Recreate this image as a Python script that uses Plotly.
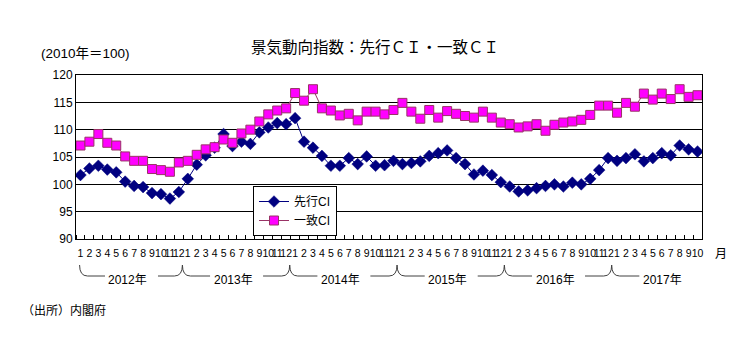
import plotly.graph_objects as go

# Monthly series, Jan 2012 - Oct 2017 (2010 = 100)
years = ["2012年", "2013年", "2014年", "2015年", "2016年", "2017年"]
months = [str(m) for m in range(1, 13)] * 5 + [str(m) for m in range(1, 11)]

leading_ci = [
    101.7, 102.9, 103.4, 102.7, 102.2, 100.5, 99.7, 99.5, 98.4, 98.2, 97.4, 98.6,
    101.0, 103.6, 105.3, 106.7, 109.2, 107.0, 107.8, 107.4, 109.5, 110.4, 111.2, 111.0,
    112.1, 107.8, 106.7, 105.2, 103.4, 103.4, 104.8, 103.7, 105.1, 103.4, 103.5, 104.3,
    103.7, 103.9, 104.2, 105.2, 105.7, 106.2, 104.8, 103.7, 101.8, 102.5, 101.7, 100.4,
    99.6, 98.7, 98.9, 99.3, 99.7, 100.0, 99.6, 100.3, 100.0, 101.0, 102.6, 104.8,
    104.3, 104.8, 105.5, 104.2, 104.8, 105.7, 105.3, 107.1, 106.4, 106.0,
]
coincident_ci = [
    107.1, 107.8, 109.2, 107.6, 107.1, 105.1, 104.3, 104.3, 102.8, 102.6, 102.3, 104.0,
    104.3, 105.4, 106.4, 106.8, 108.2, 107.6, 109.3, 110.0, 111.5, 112.8, 113.5, 113.9,
    116.7, 115.3, 117.4, 113.9, 113.5, 112.6, 112.9, 111.7, 113.3, 113.3, 112.8, 113.6,
    114.9, 113.3, 112.0, 113.6, 112.2, 113.4, 112.9, 112.5, 112.2, 113.3, 112.2, 111.3,
    111.0, 110.4, 110.6, 111.0, 109.8, 110.9, 111.3, 111.5, 111.8, 112.7, 114.4, 114.4,
    113.1, 114.9, 114.2, 116.6, 115.5, 116.6, 115.6, 117.4, 116.0, 116.3,
]
y_ticks = [90, 95, 100, 105, 110, 115, 120]

W, H = 747, 342
L, R, T, B = 76, 702, 75, 239          # plot area in pixels
N = len(months)
unit = (R - L) / N

JP = "Liberation Sans, Noto Sans CJK JP"


def xp_data(d):
    """data x -> paper x"""
    return (d + 0.5) / N


def xp_px(px):
    return (px - L) / (R - L)


def yp_px(py):
    return (B - py) / (B - T)


x = list(range(N))

fig = go.Figure()
fig.add_trace(go.Scatter(
    x=x, y=leading_ci, name="先行CI", mode="lines+markers",
    line=dict(color="#000080", width=1),
    marker=dict(symbol="diamond", size=9, color="#000080",
                line=dict(color="#000080", width=0.5)),
))
fig.add_trace(go.Scatter(
    x=x, y=coincident_ci, name="一致CI", mode="lines+markers",
    line=dict(color="#993366", width=1),
    marker=dict(symbol="square", size=9, color="#FF00FF",
                line=dict(color="#993366", width=1)),
))

# Year braces under the month labels
shapes = []
annotations = []
y_top, y_bot = yp_px(265), yp_px(276)
curve = 8 / unit
for k, yr in enumerate(years):
    start = -0.1 if k == 0 else 12 * k - 0.6
    end = 12 * k + 11.4
    tc = (start + end) / 2 - 3 / unit
    left_path = (f"M {xp_data(start)},{y_top} Q {xp_data(start)},{y_bot} "
                 f"{xp_data(start + curve)},{y_bot} L {xp_data(tc - 23 / unit)},{y_bot}")
    shapes.append(dict(type="path", xref="paper", yref="paper", path=left_path,
                       line=dict(color="#404040", width=1)))
    if k < len(years) - 1:
        right_path = (f"M {xp_data(tc + 30 / unit)},{y_bot} L {xp_data(end - curve)},{y_bot} "
                      f"Q {xp_data(end)},{y_bot} {xp_data(end)},{y_top}")
        shapes.append(dict(type="path", xref="paper", yref="paper", path=right_path,
                           line=dict(color="#404040", width=1)))
    annotations.append(dict(text=yr, x=xp_data(tc), y=yp_px(280), xref="paper", yref="paper",
                            showarrow=False, xanchor="center", yanchor="middle",
                            font=dict(family=JP, size=12, color="#000000")))

annotations += [
    dict(text="景気動向指数：先行ＣＩ・一致ＣＩ", x=xp_px(375), y=yp_px(46),
         xref="paper", yref="paper", showarrow=False, xanchor="center", yanchor="middle",
         font=dict(family="Noto Sans CJK JP", size=15.5, color="#000000")),
    dict(text="(2010年＝100)", x=xp_px(39), y=yp_px(53),
         xref="paper", yref="paper", showarrow=False, xanchor="left", yanchor="middle",
         font=dict(family=JP, size=13.5, color="#000000")),
    dict(text="月", x=xp_px(721), y=yp_px(254),
         xref="paper", yref="paper", showarrow=False, xanchor="center", yanchor="middle",
         font=dict(family=JP, size=12, color="#000000")),
    dict(text="（出所）内閣府", x=xp_px(20), y=yp_px(311),
         xref="paper", yref="paper", showarrow=False, xanchor="left", yanchor="middle",
         font=dict(family=JP, size=12, color="#000000")),
]

fig.update_layout(
    width=W, height=H, autosize=False,
    margin=dict(l=L, r=W - R, t=T, b=H - B, pad=0),
    paper_bgcolor="white", plot_bgcolor="white",
    font=dict(family=JP, size=12, color="#000000"),
    showlegend=True,
    legend=dict(x=xp_px(253), y=yp_px(186), xanchor="left", yanchor="top",
                bgcolor="white", bordercolor="#000000", borderwidth=1,
                font=dict(family=JP, size=12, color="#000000"),
                tracegroupgap=0, itemwidth=30),
    shapes=shapes,
    annotations=annotations,
)
fig.update_xaxes(
    range=[-0.5, N - 0.5], tickmode="array", tickvals=x, ticktext=months,
    tickangle=0, ticks="", ticklabelstandoff=4, showgrid=False, zeroline=False,
    showline=True, mirror=True, linecolor="#000000", linewidth=1,
    tickfont=dict(family=JP, size=10.5, color="#000000"),
    minor=dict(tickmode="linear", tick0=-0.5, dtick=1, ticks="inside",
               ticklen=4, tickcolor="#000000", showgrid=False),
)
fig.update_yaxes(
    range=[90, 120], tickmode="array", tickvals=y_ticks,
    ticks="", showgrid=True, gridcolor="#000000", gridwidth=1, zeroline=False,
    showline=True, mirror=True, linecolor="#000000", linewidth=1,
    tickfont=dict(family=JP, size=12, color="#000000"),
)

fig.write_html("out.html")
